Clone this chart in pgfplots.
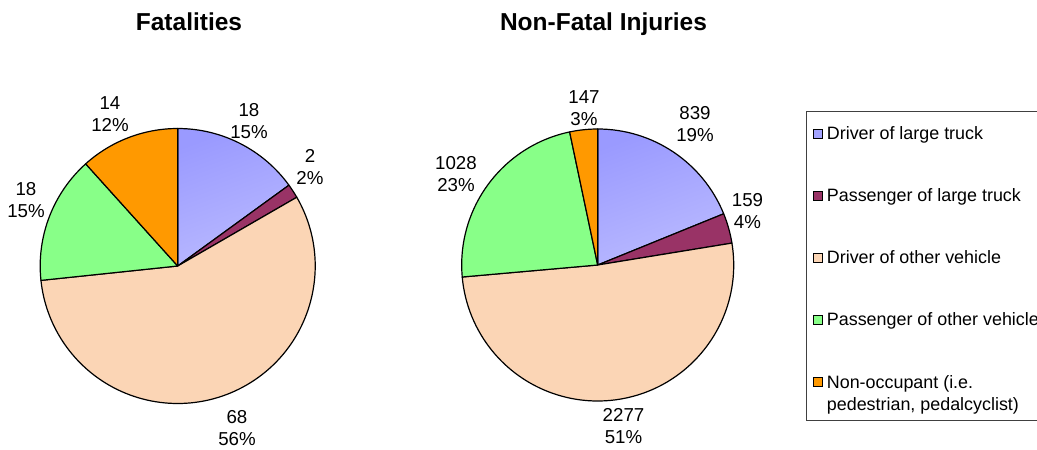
\documentclass[border=0pt]{standalone}
\usepackage{pgfplots}
\pgfplotsset{compat=1.18}
\usepackage{pgfplotstable}
\usepackage{fontspec}
\setmainfont{Liberation Sans}
\definecolor{c0}{HTML}{A3A3FF}
\definecolor{c0a}{HTML}{9A9AFF}
\definecolor{c0b}{HTML}{BABAFF}
\definecolor{c1}{HTML}{993366}
\definecolor{c2}{HTML}{FBD5B5}
\definecolor{c3}{HTML}{88FF88}
\definecolor{c4}{HTML}{FF9900}
\newcommand\titlefont{\fontsize{24.5bp}{29bp}\selectfont\bfseries}
\newcommand\labfont{\fontsize{18.7bp}{22bp}\selectfont}
\newcommand\legfont{\fontsize{17.9bp}{22bp}\selectfont}
\newcommand\ls{\rule[-3.7bp]{0pt}{16.5bp}}

% value, shown percentage, label centre (pixel coordinates)
\pgfplotstableread{
value pct lx ly
18 15 249 121
2 2 310 167.5
68 56 237 428
18 15 26 200
14 12 110 114.5
}\fatal
\pgfplotstableread{
value pct lx ly
839 19 695 124
159 4 747.5 211
2277 51 623.5 426
1028 23 456 174
147 3 584 108.5
}\nonfatal

% #1 table, #2 cx, #3 cy, #4 radius
\newcommand\drawpie[4]{%
  \pgfplotstablegetrowsof{#1}%
  \pgfmathtruncatemacro\lastrow{\pgfplotsretval-1}%
  \gdef\pietot{0}%
  \foreach \i in {0,...,\lastrow}{%
    \pgfplotstablegetelem{\i}{value}\of{#1}%
    \pgfmathsetmacro\tmp{\pietot+\pgfplotsretval}%
    \xdef\pietot{\tmp}%
  }%
  \gdef\pieang{90}%
  \foreach \i in {0,...,\lastrow}{%
    \pgfplotstablegetelem{\i}{value}\of{#1}\let\v\pgfplotsretval
    \pgfmathsetmacro\sweep{360*(\v/\pietot)}%
    \pgfmathsetmacro\pb{\pieang-\sweep}%
    \let\pa\pieang
    \ifnum\i=0
      \path[draw=black, line width=1.2bp, line join=round, top color=c0a, bottom color=c0b, shading angle=20]
        (axis cs:#2,#3) -- ++(\pa:#4bp) arc[start angle=\pa, end angle=\pb, radius=#4bp] -- cycle;
    \else
      \path[draw=black, line width=1.2bp, line join=round, fill=c\i]
        (axis cs:#2,#3) -- ++(\pa:#4bp) arc[start angle=\pa, end angle=\pb, radius=#4bp] -- cycle;
    \fi
    \pgfplotstablegetelem{\i}{pct}\of{#1}\let\p\pgfplotsretval
    \pgfplotstablegetelem{\i}{lx}\of{#1}\let\lx\pgfplotsretval
    \pgfplotstablegetelem{\i}{ly}\of{#1}\let\ly\pgfplotsretval
    \node[align=center, inner sep=0pt, font=\labfont] at (axis cs:\lx,\ly) {\v\\\p\%};
    \xdef\pieang{\pb}%
  }%
}

\begin{document}
\begin{tikzpicture}
\begin{axis}[
  width=1037bp, height=449bp, scale only axis,
  xmin=0, xmax=1037, ymin=0, ymax=449, y dir=reverse,
  hide axis, clip=false,
  legend cell align=left,
  legend image code/.code={\draw[#1, draw=black, line width=0.9bp] (0bp,-4.5bp) rectangle (9bp,4.5bp);},
  legend style={draw=none, fill=none, inner sep=0pt, outer sep=0pt,
    at={(axis description cs:0.78370,0.71826)}, anchor=north west,
    row sep=47.7bp, column sep=4.3bp,
    nodes={inner sep=0pt, font=\legfont}},
]
\addlegendimage{fill=c0}\addlegendentry{\ls Driver of large truck}
\addlegendimage{fill=c1}\addlegendentry{\ls Passenger of large truck}
\addlegendimage{fill=c2}\addlegendentry{\ls Driver of other vehicle}
\addlegendimage{fill=c3}\addlegendentry{\ls Passenger of other vehicle}
\addlegendimage{fill=c4, yshift=11bp}\addlegendentry[align=left]{\ls Non-occupant (i.e.\\pedestrian, pedalcyclist)}
\pgfplotsextra{%
  \drawpie{\fatal}{177.7}{266}{137.5}%
  \drawpie{\nonfatal}{597.7}{265}{136}%
  \node[font=\titlefont, anchor=base] at (axis cs:189,31) {Fatalities};
  \node[font=\titlefont, anchor=base] at (axis cs:603.5,31) {Non-Fatal Injuries};
  \draw[color=black!75, line width=1bp] (axis cs:806.7,111.7) rectangle (axis cs:1070,420);
}
\end{axis}
\pgfresetboundingbox
\useasboundingbox (current axis.south west) rectangle (current axis.north east);
\end{tikzpicture}
\end{document}
